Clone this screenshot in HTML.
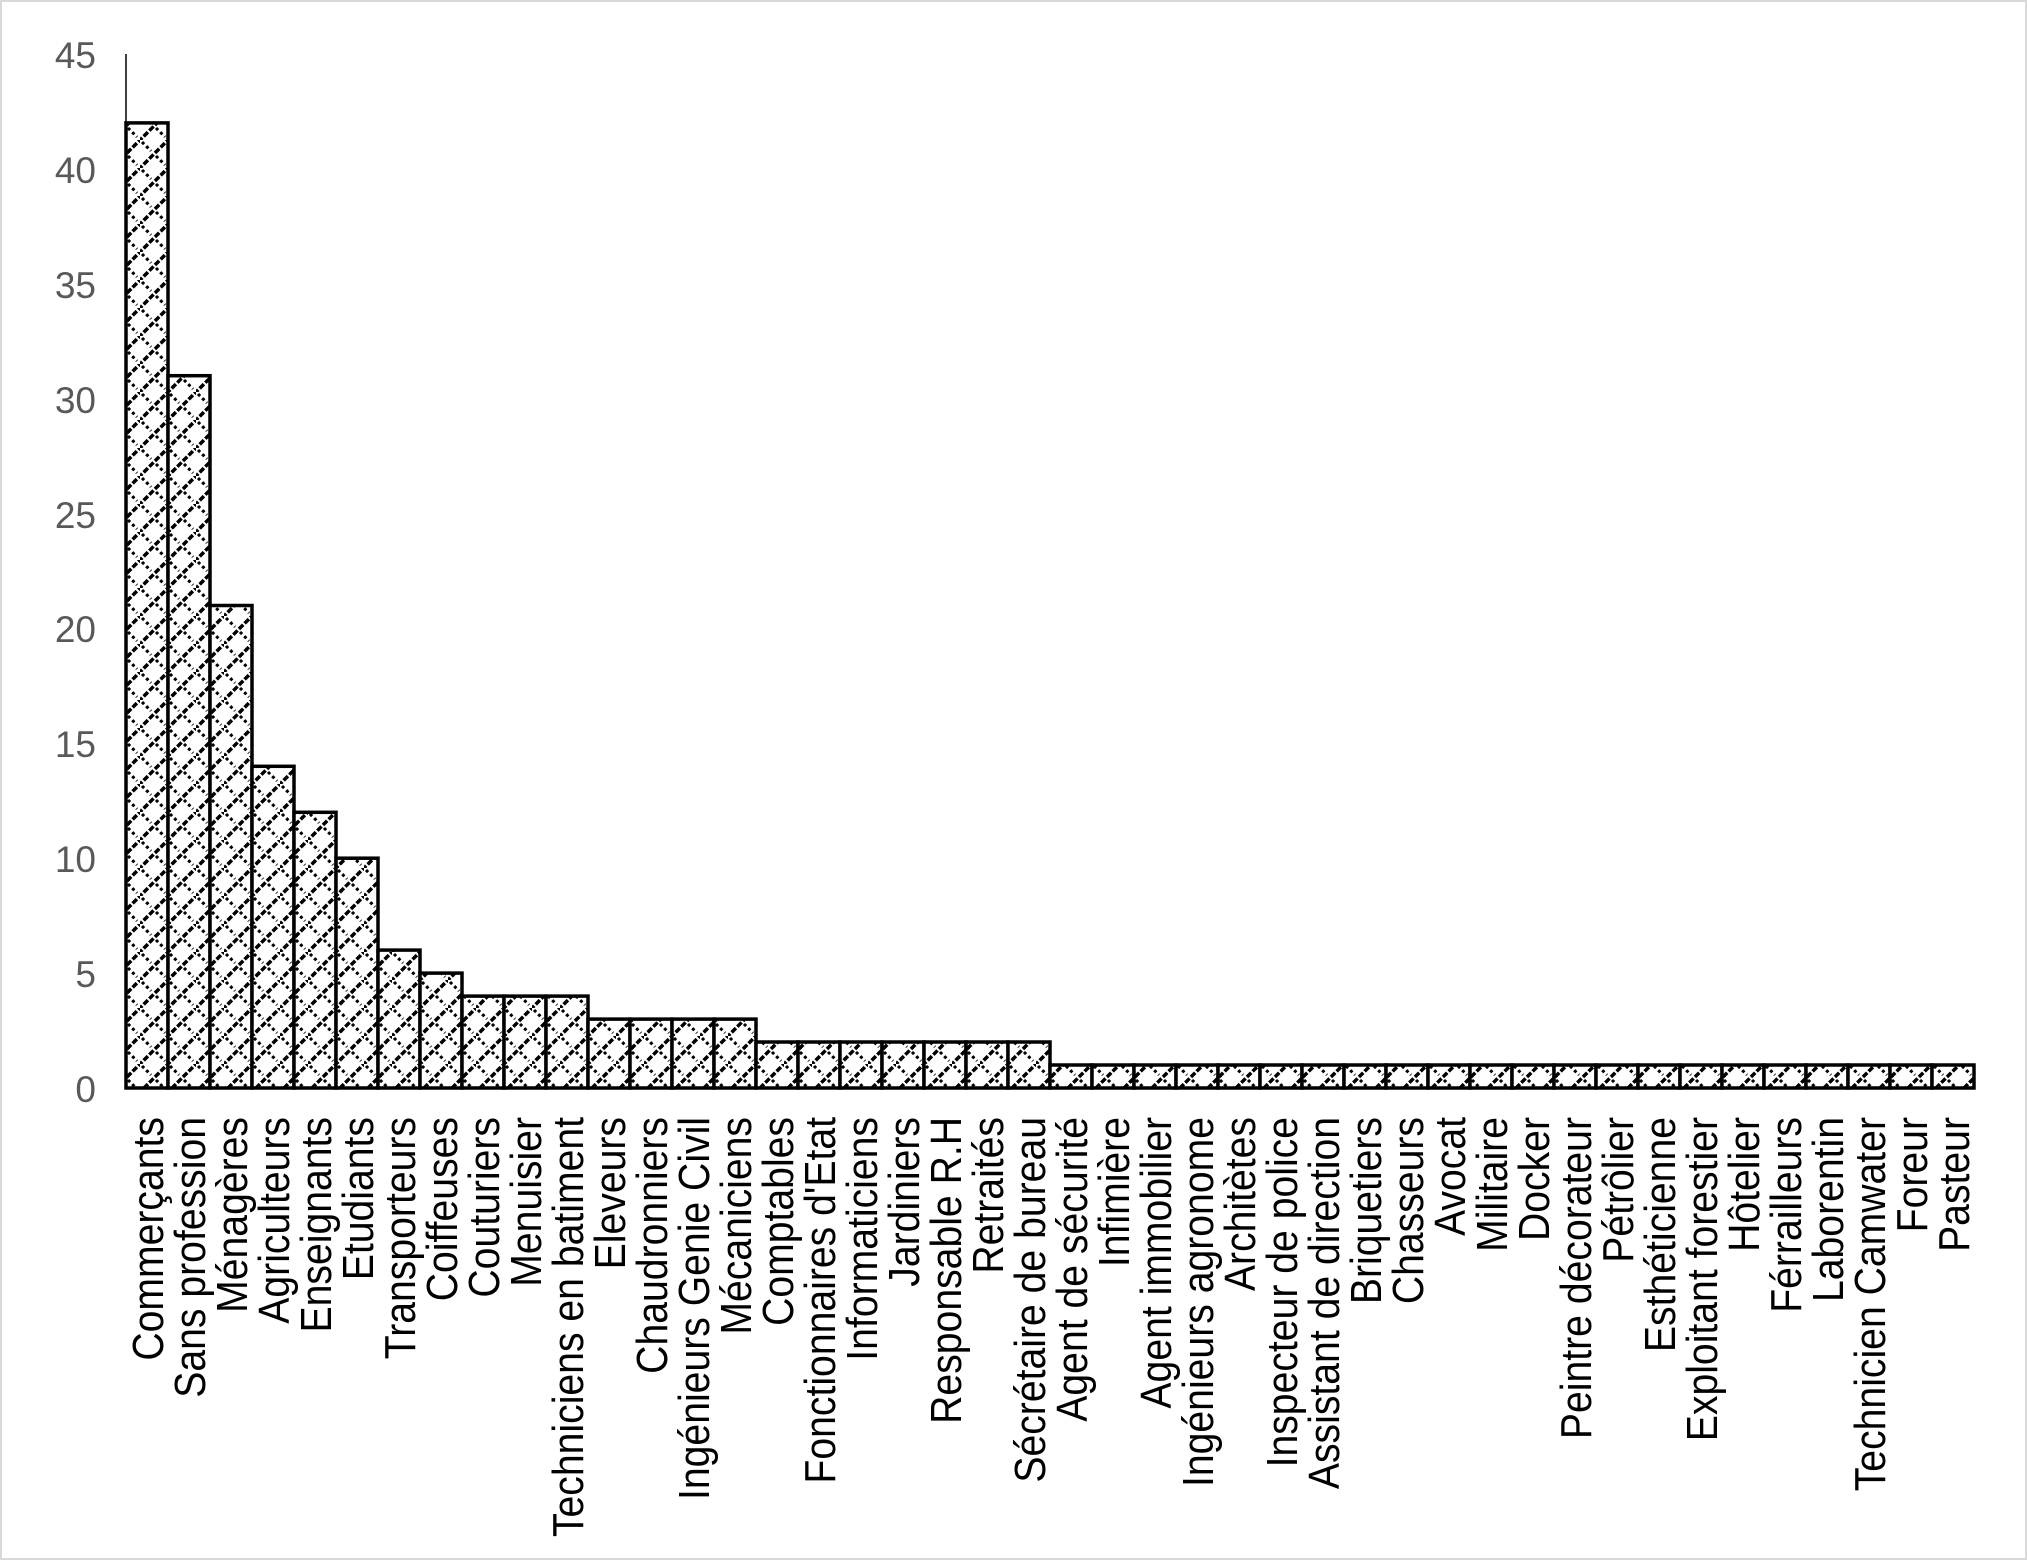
<!DOCTYPE html>
<html><head><meta charset="utf-8"><style>
html,body{margin:0;padding:0;background:#fff}
svg{display:block}
</style></head><body>
<svg width="2027" height="1560" viewBox="0 0 2027 1560" xmlns="http://www.w3.org/2000/svg">
<defs>
<pattern id="h" patternUnits="userSpaceOnUse" width="28" height="28">
<rect width="28" height="28" fill="#fff"/>
<path d="M-2,30 L30,-2" stroke="#000" stroke-width="3.5" stroke-dasharray="6,2"/>
<path d="M2,2 L11,11 M16,16 L25,25" stroke="#000" stroke-width="3" stroke-dasharray="3,3"/>
</pattern>
</defs>
<rect x="1" y="1" width="2025" height="1558" fill="#fff" stroke="#d9d9d9" stroke-width="2"/>
<g font-family="Liberation Sans, Arial, sans-serif" font-size="37" fill="#595959" text-anchor="end">
<text x="96" y="68">45</text>
<text x="96" y="183">40</text>
<text x="96" y="298">35</text>
<text x="96" y="413">30</text>
<text x="96" y="528">25</text>
<text x="96" y="642">20</text>
<text x="96" y="757">15</text>
<text x="96" y="872">10</text>
<text x="96" y="987">5</text>
<text x="96" y="1102">0</text>
</g>
<line x1="126" y1="54" x2="126" y2="1088" stroke="#000" stroke-width="1.5"/>
<g fill="url(#h)" stroke="#000" stroke-width="3.5">
<rect x="126" y="122.9" width="42" height="965.1"/>
<rect x="168" y="375.7" width="42" height="712.3"/>
<rect x="210" y="605.5" width="42" height="482.5"/>
<rect x="252" y="766.3" width="42" height="321.7"/>
<rect x="294" y="812.3" width="42" height="275.7"/>
<rect x="336" y="858.2" width="42" height="229.8"/>
<rect x="378" y="950.1" width="42" height="137.9"/>
<rect x="420" y="973.1" width="42" height="114.9"/>
<rect x="462" y="996.1" width="42" height="91.9"/>
<rect x="504" y="996.1" width="42" height="91.9"/>
<rect x="546" y="996.1" width="42" height="91.9"/>
<rect x="588" y="1019.1" width="42" height="68.9"/>
<rect x="630" y="1019.1" width="42" height="68.9"/>
<rect x="672" y="1019.1" width="42" height="68.9"/>
<rect x="714" y="1019.1" width="42" height="68.9"/>
<rect x="756" y="1042" width="42" height="46"/>
<rect x="798" y="1042" width="42" height="46"/>
<rect x="840" y="1042" width="42" height="46"/>
<rect x="882" y="1042" width="42" height="46"/>
<rect x="924" y="1042" width="42" height="46"/>
<rect x="966" y="1042" width="42" height="46"/>
<rect x="1008" y="1042" width="42" height="46"/>
<rect x="1050" y="1065" width="42" height="23"/>
<rect x="1092" y="1065" width="42" height="23"/>
<rect x="1134" y="1065" width="42" height="23"/>
<rect x="1176" y="1065" width="42" height="23"/>
<rect x="1218" y="1065" width="42" height="23"/>
<rect x="1260" y="1065" width="42" height="23"/>
<rect x="1302" y="1065" width="42" height="23"/>
<rect x="1344" y="1065" width="42" height="23"/>
<rect x="1386" y="1065" width="42" height="23"/>
<rect x="1428" y="1065" width="42" height="23"/>
<rect x="1470" y="1065" width="42" height="23"/>
<rect x="1512" y="1065" width="42" height="23"/>
<rect x="1554" y="1065" width="42" height="23"/>
<rect x="1596" y="1065" width="42" height="23"/>
<rect x="1638" y="1065" width="42" height="23"/>
<rect x="1680" y="1065" width="42" height="23"/>
<rect x="1722" y="1065" width="42" height="23"/>
<rect x="1764" y="1065" width="42" height="23"/>
<rect x="1806" y="1065" width="42" height="23"/>
<rect x="1848" y="1065" width="42" height="23"/>
<rect x="1890" y="1065" width="42" height="23"/>
<rect x="1932" y="1065" width="42" height="23"/>
</g>
<g font-family="Liberation Sans, Arial, sans-serif" font-size="44" fill="#000" text-anchor="end">
<text transform="translate(163,1117) rotate(-90) scale(0.89,1)">Commerçants</text>
<text transform="translate(205,1117) rotate(-90) scale(0.89,1)">Sans profession</text>
<text transform="translate(247,1117) rotate(-90) scale(0.89,1)">Ménagères</text>
<text transform="translate(289,1117) rotate(-90) scale(0.89,1)">Agriculteurs</text>
<text transform="translate(331,1117) rotate(-90) scale(0.89,1)">Enseignants</text>
<text transform="translate(373,1117) rotate(-90) scale(0.89,1)">Etudiants</text>
<text transform="translate(415,1117) rotate(-90) scale(0.89,1)">Transporteurs</text>
<text transform="translate(457,1117) rotate(-90) scale(0.89,1)">Coiffeuses</text>
<text transform="translate(499,1117) rotate(-90) scale(0.89,1)">Couturiers</text>
<text transform="translate(541,1117) rotate(-90) scale(0.89,1)">Menuisier</text>
<text transform="translate(583,1117) rotate(-90) scale(0.89,1)">Techniciens en batiment</text>
<text transform="translate(625,1117) rotate(-90) scale(0.89,1)">Eleveurs</text>
<text transform="translate(667,1117) rotate(-90) scale(0.89,1)">Chaudronniers</text>
<text transform="translate(709,1117) rotate(-90) scale(0.89,1)">Ingénieurs Genie Civil</text>
<text transform="translate(751,1117) rotate(-90) scale(0.89,1)">Mécaniciens</text>
<text transform="translate(793,1117) rotate(-90) scale(0.89,1)">Comptables</text>
<text transform="translate(835,1117) rotate(-90) scale(0.89,1)">Fonctionnaires d'Etat</text>
<text transform="translate(877,1117) rotate(-90) scale(0.89,1)">Informaticiens</text>
<text transform="translate(919,1117) rotate(-90) scale(0.89,1)">Jardiniers</text>
<text transform="translate(961,1117) rotate(-90) scale(0.89,1)">Responsable R.H</text>
<text transform="translate(1003,1117) rotate(-90) scale(0.89,1)">Retraités</text>
<text transform="translate(1045,1117) rotate(-90) scale(0.89,1)">Sécrétaire de bureau</text>
<text transform="translate(1087,1117) rotate(-90) scale(0.89,1)">Agent de sécurité</text>
<text transform="translate(1129,1117) rotate(-90) scale(0.89,1)">Infimière</text>
<text transform="translate(1171,1117) rotate(-90) scale(0.89,1)">Agent immobilier</text>
<text transform="translate(1213,1117) rotate(-90) scale(0.89,1)">Ingénieurs agronome</text>
<text transform="translate(1255,1117) rotate(-90) scale(0.89,1)">Architètes</text>
<text transform="translate(1297,1117) rotate(-90) scale(0.89,1)">Inspecteur de police</text>
<text transform="translate(1339,1117) rotate(-90) scale(0.89,1)">Assistant de direction</text>
<text transform="translate(1381,1117) rotate(-90) scale(0.89,1)">Briquetiers</text>
<text transform="translate(1423,1117) rotate(-90) scale(0.89,1)">Chasseurs</text>
<text transform="translate(1465,1117) rotate(-90) scale(0.89,1)">Avocat</text>
<text transform="translate(1507,1117) rotate(-90) scale(0.89,1)">Militaire</text>
<text transform="translate(1549,1117) rotate(-90) scale(0.89,1)">Docker</text>
<text transform="translate(1591,1117) rotate(-90) scale(0.89,1)">Peintre décorateur</text>
<text transform="translate(1633,1117) rotate(-90) scale(0.89,1)">Pétrôlier</text>
<text transform="translate(1675,1117) rotate(-90) scale(0.89,1)">Esthéticienne</text>
<text transform="translate(1717,1117) rotate(-90) scale(0.89,1)">Exploitant forestier</text>
<text transform="translate(1759,1117) rotate(-90) scale(0.89,1)">Hôtelier</text>
<text transform="translate(1801,1117) rotate(-90) scale(0.89,1)">Férrailleurs</text>
<text transform="translate(1843,1117) rotate(-90) scale(0.89,1)">Laborentin</text>
<text transform="translate(1885,1117) rotate(-90) scale(0.89,1)">Technicien Camwater</text>
<text transform="translate(1927,1117) rotate(-90) scale(0.89,1)">Foreur</text>
<text transform="translate(1969,1117) rotate(-90) scale(0.89,1)">Pasteur</text>
</g>
</svg>
</body></html>
